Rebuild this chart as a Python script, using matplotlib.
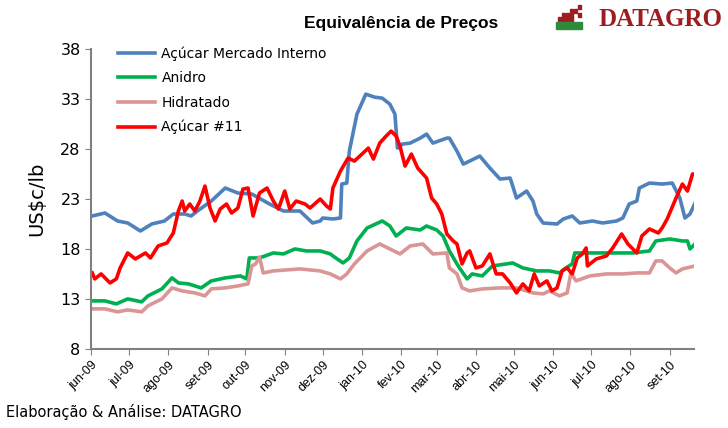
#Equivalencia de Precos - DATAGRO chart recreation
import pandas as pd
import numpy as np
import matplotlib
matplotlib.use('Agg')
import matplotlib.pyplot as plt
from matplotlib.patches import Rectangle

#-------------------------------------
#data (days since 2009-06-01, US$c/lb)
#-------------------------------------
start = pd.Timestamp('2009-06-01')

interno_days = [1, 11, 21, 29, 39, 48, 58, 65, 74, 79, 84, 95, 106, 116, 127, 141, 152, 165,
                175, 181, 183, 191, 197, 198, 202, 204, 210, 217, 224, 230, 236, 240, 242, 246,
                252, 260, 265, 270, 281, 283, 289, 294, 299, 307, 315, 323, 331, 336, 344, 349,
                352, 357, 368, 373, 380, 386, 396, 404, 415, 420, 425, 431, 433, 441, 451, 459,
                465, 469, 473, 477]
interno_vals = [21.3, 21.6, 20.8, 20.6, 19.8, 20.5, 20.8, 21.5, 21.5, 21.3, 21.8, 22.8, 24.1, 23.6,
                23.5, 22.5, 21.8, 21.8, 20.6, 20.8, 21.1, 21.0, 21.1, 24.5, 24.6, 27.8, 31.5, 33.5,
                33.2, 33.1, 32.5, 31.5, 28.1, 28.5, 28.6, 29.1, 29.5, 28.6, 29.1, 29.1, 27.8, 26.5,
                26.8, 27.3, 26.1, 25.0, 25.1, 23.1, 23.8, 22.8, 21.5, 20.6, 20.5, 21.0, 21.3, 20.6,
                20.8, 20.6, 20.8, 21.1, 22.5, 22.8, 24.1, 24.6, 24.5, 24.6, 23.1, 21.1, 21.5, 22.6]

anidro_days = [1, 11, 20, 29, 40, 45, 56, 64, 69, 77, 87, 95, 106, 118, 123, 125, 133, 144, 152,
               161, 170, 181, 189, 191, 199, 204, 210, 218, 230, 236, 241, 249, 260, 265, 273, 278,
               283, 289, 291, 297, 301, 309, 317, 328, 333, 341, 352, 362, 370, 375, 380, 382, 394,
               404, 415, 428, 441, 446, 457, 467, 471, 473, 477]
anidro_vals = [12.8, 12.8, 12.5, 13.0, 12.7, 13.3, 14.0, 15.1, 14.6, 14.5, 14.1, 14.8, 15.1, 15.3,
               15.0, 17.1, 17.1, 17.6, 17.5, 18.0, 17.8, 17.8, 17.5, 17.3, 16.6, 17.1, 18.8, 20.1,
               20.8, 20.3, 19.3, 20.1, 19.9, 20.3, 19.9, 19.3, 17.8, 16.5, 16.1, 15.0, 15.5, 15.3,
               16.3, 16.5, 16.6, 16.1, 15.8, 15.8, 15.6, 16.1, 16.5, 17.6, 17.6, 17.6, 17.6, 17.6,
               17.8, 18.8, 19.0, 18.8, 18.8, 18.0, 18.5]

hidratado_days = [1, 11, 21, 29, 40, 45, 56, 64, 72, 82, 90, 95, 106, 116, 124, 127, 130, 133, 136,
                  144, 165, 181, 189, 197, 202, 208, 218, 228, 236, 244, 252, 262, 270, 281, 283,
                  289, 293, 299, 309, 323, 336, 349, 357, 362, 370, 376, 379, 383, 394, 407, 420,
                  431, 441, 446, 451, 457, 462, 467, 477]
hidratado_vals = [12.0, 12.0, 11.7, 11.9, 11.7, 12.3, 13.0, 14.1, 13.8, 13.6, 13.3, 14.0, 14.1,
                  14.3, 14.5, 16.3, 16.5, 17.2, 15.6, 15.8, 16.0, 15.8, 15.5, 15.0, 15.5, 16.5,
                  17.8, 18.5, 18.0, 17.5, 18.3, 18.5, 17.5, 17.6, 16.1, 15.5, 14.1, 13.8, 14.0,
                  14.1, 14.1, 13.6, 13.5, 13.8, 13.3, 13.6, 15.6, 14.8, 15.3, 15.5, 15.5, 15.6,
                  15.6, 16.8, 16.8, 16.1, 15.6, 16.0, 16.3]

acucar11_days = [1, 3, 8, 15, 20, 23, 29, 35, 43, 47, 53, 60, 65, 69, 72, 74, 78, 82, 86, 90, 94,
                 98, 102, 107, 111, 116, 120, 124, 128, 133, 139, 144, 148, 153, 157, 162, 169, 173,
                 181, 186, 189, 191, 197, 203, 208, 214, 219, 223, 228, 233, 237, 241, 244, 248,
                 253, 258, 265, 269, 273, 277, 281, 286, 289, 293, 297, 299, 304, 309, 315, 320,
                 325, 331, 336, 341, 346, 350, 354, 360, 364, 368, 372, 376, 380, 384, 388, 391,
                 392, 399, 407, 412, 419, 424, 431, 435, 441, 448, 451, 455, 462, 467, 471, 475, 478]
acucar11_vals = [15.6, 15.0, 15.5, 14.6, 15.0, 16.1, 17.6, 17.0, 17.6, 17.1, 18.3, 18.6, 19.6, 21.8,
                 22.8, 21.8, 22.5, 21.8, 22.8, 24.3, 22.1, 20.8, 22.0, 22.5, 21.6, 22.1, 24.0, 24.1,
                 21.3, 23.6, 24.1, 22.8, 22.0, 23.8, 22.0, 22.8, 22.5, 22.1, 23.0, 22.3, 22.0, 24.1,
                 25.8, 27.1, 26.8, 27.5, 28.1, 27.0, 28.6, 29.3, 29.8, 29.3, 28.3, 26.3, 27.5, 26.1,
                 25.1, 23.1, 22.5, 21.5, 19.5, 18.8, 18.5, 16.5, 17.6, 17.8, 16.1, 16.3, 17.5, 15.5,
                 15.5, 14.6, 13.6, 14.5, 13.8, 15.5, 14.3, 14.8, 13.8, 14.1, 15.8, 16.1, 15.5, 17.1,
                 17.5, 18.1, 16.3, 17.0, 17.3, 18.1, 19.5, 18.5, 17.6, 19.3, 20.0, 19.6, 20.1, 21.0,
                 23.1, 24.5, 23.8, 25.5, 25.5]

series = [
    ('Açúcar Mercado Interno', interno_days, interno_vals, '#4F81BD'),
    ('Anidro', anidro_days, anidro_vals, '#00B050'),
    ('Hidratado', hidratado_days, hidratado_vals, '#D99694'),
    ('Açúcar #11', acucar11_days, acucar11_vals, '#FF0000'),
]

month_labels = ['jun-09', 'jul-09', 'ago-09', 'set-09', 'out-09', 'nov-09', 'dez-09', 'jan-10',
                'fev-10', 'mar-10', 'abr-10', 'mai-10', 'jun-10', 'jul-10', 'ago-10', 'set-10']

#-------------------------------------
#Time to plot!
#-------------------------------------
fig = plt.figure(figsize=(7.28, 4.28), dpi=100)
ax = fig.add_axes([0.125, 0.185, 0.828, 0.70])

for name, days, vals, col in series:
    dates = start + pd.to_timedelta(days, unit='D')
    ax.plot(dates, vals, color=col, lw=2.6, label=name, solid_joinstyle='round')

#axes look
ax.set_ylim(8, 38)
ax.set_yticks(np.arange(8, 39, 5))
ax.set_xlim(start, start + pd.Timedelta(days=476))
ticks = pd.date_range(start, periods=len(month_labels), freq='MS')
ax.set_xticks(ticks)
ax.set_xticklabels(month_labels, rotation=45, ha='right', rotation_mode='anchor',
                   fontsize=9, family='Liberation Sans')
ax.tick_params(axis='x', length=4, color='#808080', pad=3)
ax.tick_params(axis='y', length=4, color='#808080', labelsize=11.5)
for s in ['top', 'right']:
    ax.spines[s].set_visible(False)
for s in ['left', 'bottom']:
    ax.spines[s].set_color('#808080')
    ax.spines[s].set_linewidth(1.5)

ax.set_ylabel('US$c/lb', fontsize=14, labelpad=10)

leg = ax.legend(loc='upper left', bbox_to_anchor=(0.155, 0.905), bbox_transform=fig.transFigure,
                frameon=False, fontsize=10, handlelength=2.6, labelspacing=0.75, handletextpad=0.5,
                borderaxespad=0)

#-----Finishing touches-----
fig.text(0.551, 0.945, 'Equivalência de Preços', ha='center', va='center', fontsize=12.5,
         fontweight='bold', family='Liberation Sans')
fig.text(0.008, 0.018, 'Elaboração & Análise: DATAGRO', ha='left', va='bottom', fontsize=10.5,
         family='DejaVu Sans')
fig.text(0.993, 0.955, 'DATAGRO', ha='right', va='center', fontsize=18, fontweight='bold',
         color='#9C1C1F', family='Liberation Serif')

#small logo mark beside DATAGRO
for (dx, dy) in [(0, 0), (1, 0), (2, 0), (3, 0), (1, 1), (2, 1), (3, 1), (5, 1), (3, 2), (4, 2),
                 (5, 3)]:
    fig.patches.append(Rectangle((0.766 + dx * 0.0055, 0.952 + dy * 0.0093), 0.0045, 0.0078,
                                 transform=fig.transFigure, color='#9C1C1F'))
fig.patches.append(Rectangle((0.764, 0.932), 0.036, 0.016, transform=fig.transFigure,
                             color='#2E8B3A'))

fig.savefig('out.png', dpi=100)
